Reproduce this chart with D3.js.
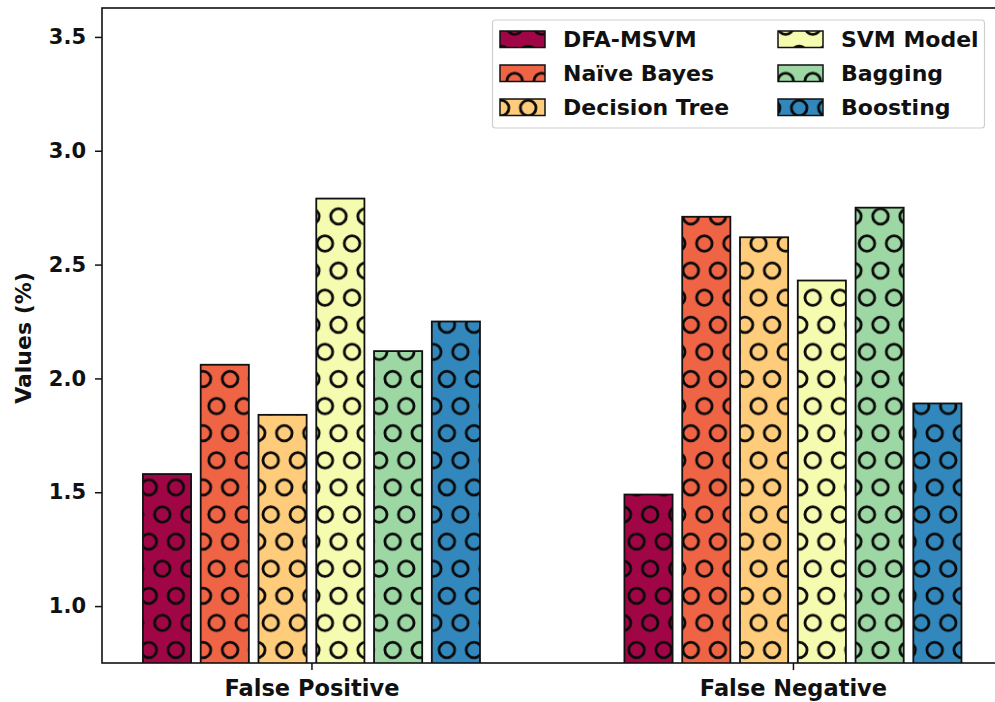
<!DOCTYPE html>
<html>
<head>
<meta charset="utf-8">
<script src="https://cdn.jsdelivr.net/npm/d3@7"></script>
<style>
  body { margin: 0; background: #fff; }
  svg text { font-family: "DejaVu Sans", sans-serif; font-weight: bold; fill: #111; }
</style>
</head>
<body>
<svg id="chart" width="995" height="702"></svg>
<script>
// ========= Data =========
const categories = ['False Positive', 'False Negative'];
const models = ['DFA-MSVM', 'Naïve Bayes', 'Decision Tree', 'SVM Model', 'Bagging', 'Boosting'];
const colors = ['#a00646', '#ee6445', '#fecc7a', '#f5fbaf', '#9dd8a4', '#3288bd'];
const falsePositive = [1.58, 2.06, 1.84, 2.79, 2.12, 2.25];
const falseNegative = [1.49, 2.71, 2.62, 2.43, 2.75, 1.89];
const yTicks = [1.0, 1.5, 2.0, 2.5, 3.0, 3.5];
const series = [falsePositive, falseNegative];

// ========= Layout =========
const margin = {top: 8, left: 102, bottom: 39};
const W = 995, H = 702;
const innerH = H - margin.top - margin.bottom;
const barStep = 0.12, barWidth = 0.1;

const svg = d3.select('#chart');
const g = svg.append('g').attr('transform', `translate(${margin.left},${margin.top})`);

// x in "group units" like matplotlib: group i at i, xlim with 5% margin
const x = d3.scaleLinear().domain([-0.435, 1.435]).range([0, 481.5 * 1.87]);
const y = d3.scaleLinear().domain([0.75, 2.79 * 1.3]).range([innerH, 0]);

// ========= Hatch pattern (figure anchored, like mpl) =========
const defs = svg.append('defs');
const tileW = 27.1, tileH = 54.2;
const hatch = defs.append('pattern')
  .attr('id', 'hatch-o')
  .attr('patternUnits', 'userSpaceOnUse')
  .attr('x', 13.3 - margin.left)
  .attr('y', 650 - margin.top)
  .attr('width', tileW)
  .attr('height', tileH);
[[0, 0], [tileW, 0], [0, tileH], [tileW, tileH], [tileW / 2, tileH / 2]].forEach(p => {
  hatch.append('circle')
    .attr('cx', p[0]).attr('cy', p[1]).attr('r', 7.8)
    .attr('fill', 'none').attr('stroke', '#0a0a0a').attr('stroke-width', 2.8);
});

// legend items live in svg space, so they get their own copy of the pattern
defs.append('pattern')
  .attr('id', 'hatch-o-legend')
  .attr('href', '#hatch-o')
  .attr('x', 13.3)
  .attr('y', 650);

defs.append('clipPath').attr('id', 'plot-clip')
  .append('rect').attr('width', W).attr('height', innerH);

// ========= Bars =========
const bars = [];
series.forEach((vals, i) => {
  vals.forEach((v, j) => {
    bars.push({group: i, model: j, value: v});
  });
});

const barG = g.append('g').attr('clip-path', 'url(#plot-clip)');
const barSel = barG.selectAll('g.bar')
  .data(bars)
  .enter()
  .append('g')
  .attr('class', 'bar');

const bx = d => x(d.group + (d.model - 2.5) * barStep - barWidth / 2);
const bw = x(barWidth) - x(0);

barSel.append('rect')
  .attr('x', bx).attr('y', d => y(d.value))
  .attr('width', bw).attr('height', d => innerH - y(d.value) + 2)
  .attr('fill', d => colors[d.model]);
barSel.append('rect')
  .attr('x', bx).attr('y', d => y(d.value))
  .attr('width', bw).attr('height', d => innerH - y(d.value) + 2)
  .attr('fill', 'url(#hatch-o)')
  .attr('stroke', '#111').attr('stroke-width', 1.8);

// ========= Axes =========
const yAxis = g.append('g')
  .call(d3.axisLeft(y).tickValues(yTicks).tickFormat(d3.format('.1f')).tickSize(7).tickPadding(9));
yAxis.select('.domain').remove();
yAxis.selectAll('line').attr('stroke', '#111').attr('stroke-width', 1.5);
yAxis.selectAll('text').style('font-size', '21px');

const xAxis = g.append('g')
  .attr('transform', `translate(0,${innerH})`)
  .call(d3.axisBottom(x).tickValues([0, 1]).tickFormat(d => categories[d]).tickSize(7).tickPadding(10));
xAxis.select('.domain').remove();
xAxis.selectAll('line').attr('stroke', '#111').attr('stroke-width', 1.5);
xAxis.selectAll('text').style('font-size', '22.5px');

// spines
g.append('rect')
  .attr('x', 0).attr('y', 0)
  .attr('width', x.range()[1]).attr('height', innerH)
  .attr('fill', 'none').attr('stroke', '#111').attr('stroke-width', 1.6);

g.append('text')
  .attr('transform', `translate(${23 - margin.left},${338 - margin.top}) rotate(-90)`)
  .attr('text-anchor', 'middle')
  .attr('dominant-baseline', 'central')
  .style('font-size', '22px')
  .text('Values (%)');

// ========= Legend =========
const legend = svg.append('g');
legend.append('rect')
  .attr('x', 492.5).attr('y', 20)
  .attr('width', 492).attr('height', 108)
  .attr('rx', 3)
  .attr('fill', '#fff').attr('fill-opacity', 0.85)
  .attr('stroke', '#d0d0d0').attr('stroke-width', 1.2);

const colX = [500, 778];
const rowY = [31, 65, 99];
const items = legend.selectAll('g.item')
  .data(models)
  .enter()
  .append('g')
  .attr('class', 'item');

items.append('rect')
  .attr('x', (d, i) => colX[Math.floor(i / 3)])
  .attr('y', (d, i) => rowY[i % 3])
  .attr('width', 45).attr('height', 16.5)
  .attr('fill', (d, i) => colors[i]);
items.append('rect')
  .attr('x', (d, i) => colX[Math.floor(i / 3)])
  .attr('y', (d, i) => rowY[i % 3])
  .attr('width', 45).attr('height', 16.5)
  .attr('fill', 'url(#hatch-o-legend)')
  .attr('stroke', '#111').attr('stroke-width', 1.5);
items.append('text')
  .attr('x', (d, i) => colX[Math.floor(i / 3)] + 63)
  .attr('y', (d, i) => rowY[i % 3] + 8.5)
  .attr('dominant-baseline', 'central')
  .style('font-size', '22px')
  .text(d => d);
</script>
</body>
</html>
